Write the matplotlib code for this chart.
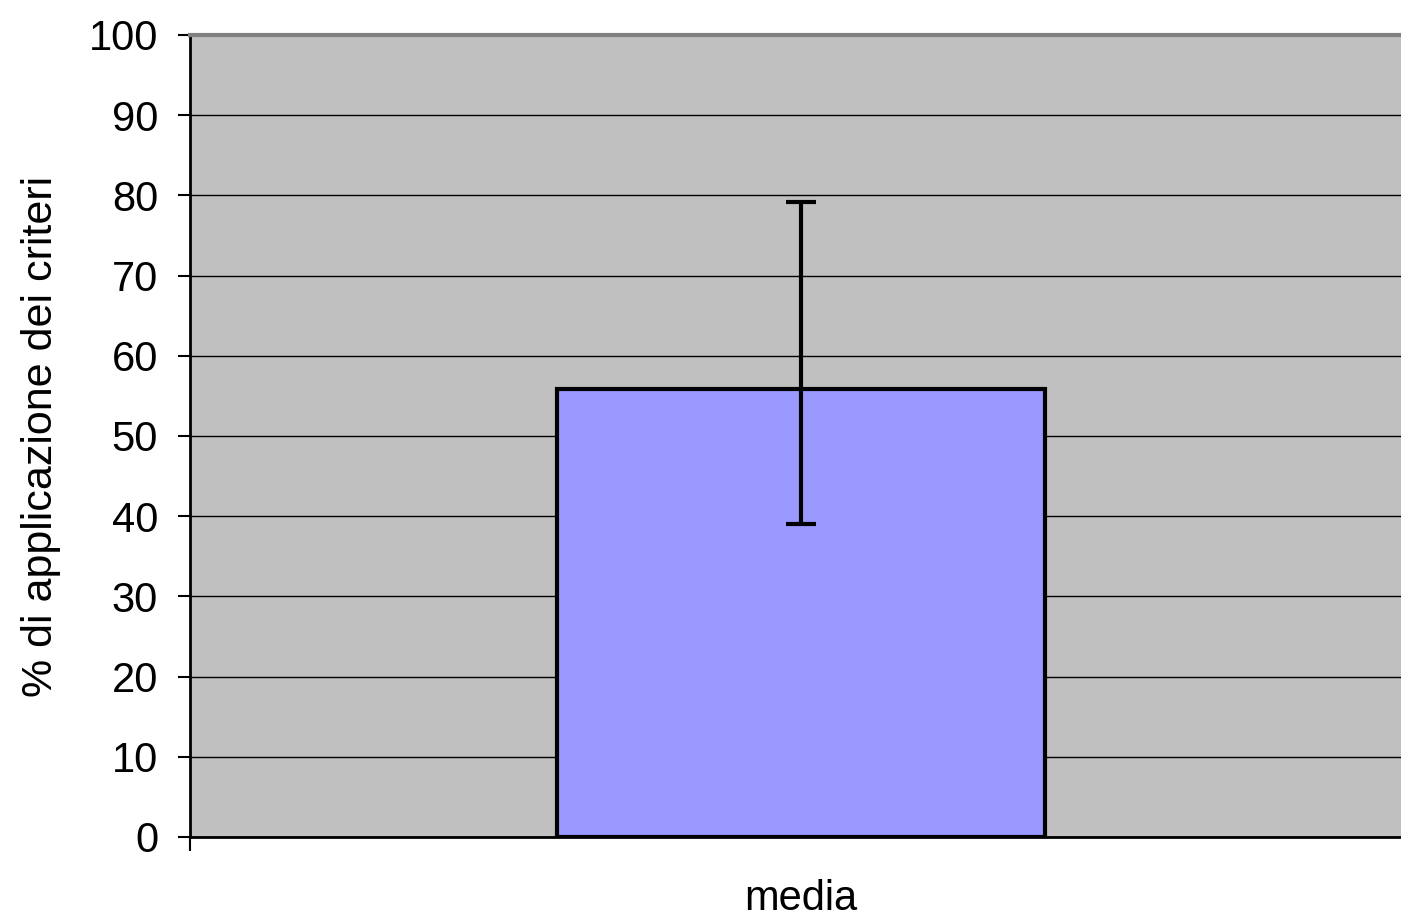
import matplotlib
matplotlib.use("Agg")
import matplotlib.pyplot as plt
from matplotlib.ticker import FixedLocator, NullFormatter

categories = ["media"]
values = [55.9]
err_low = [16.9]
err_high = [23.3]
y_ticks = [0, 10, 20, 30, 40, 50, 60, 70, 80, 90, 100]
y_label = "% di applicazione dei criteri"

plt.rcParams["font.family"] = ["Liberation Sans", "DejaVu Sans"]

fig = plt.figure(figsize=(14.01, 9.19), dpi=100)
ax = fig.add_axes([190 / 1401, 1 - 837 / 919, 1212 / 1401, (837 - 35) / 919])
ax.set_facecolor("#c0c0c0")

x = list(range(len(categories)))
ax.bar(x, values, width=0.403, color="#9999ff", edgecolor="black", linewidth=3, zorder=3)
ax.errorbar(x, values, yerr=[err_low, err_high], fmt="none", ecolor="black",
            elinewidth=3, capsize=11, capthick=3, zorder=4)

ax.set_xlim(-0.504, 0.496)
ax.set_ylim(0, 100)
ax.set_yticks(y_ticks)
ax.set_yticklabels([str(t) for t in y_ticks])
ax.yaxis.grid(True, color="black", linewidth=1, zorder=1)
ax.set_axisbelow(True)

ax.set_xticks(x)
ax.set_xticklabels(categories)
ax.xaxis.set_minor_locator(FixedLocator([-0.504]))
ax.xaxis.set_minor_formatter(NullFormatter())
ax.tick_params(axis="x", which="major", length=0, pad=30, labelsize=30)
ax.tick_params(axis="x", which="minor", length=10, width=1.5, color="black")
ax.tick_params(axis="y", length=9, width=1.5, color="black", pad=14, labelsize=30)

ax.set_ylabel(y_label, fontsize=31, labelpad=20)

for side in ("left", "bottom"):
    ax.spines[side].set_color("black")
    ax.spines[side].set_linewidth(2)
ax.spines["top"].set_color("#808080")
ax.spines["top"].set_linewidth(3)
ax.spines["right"].set_visible(False)

fig.savefig("out.png", dpi=100, facecolor="white")
